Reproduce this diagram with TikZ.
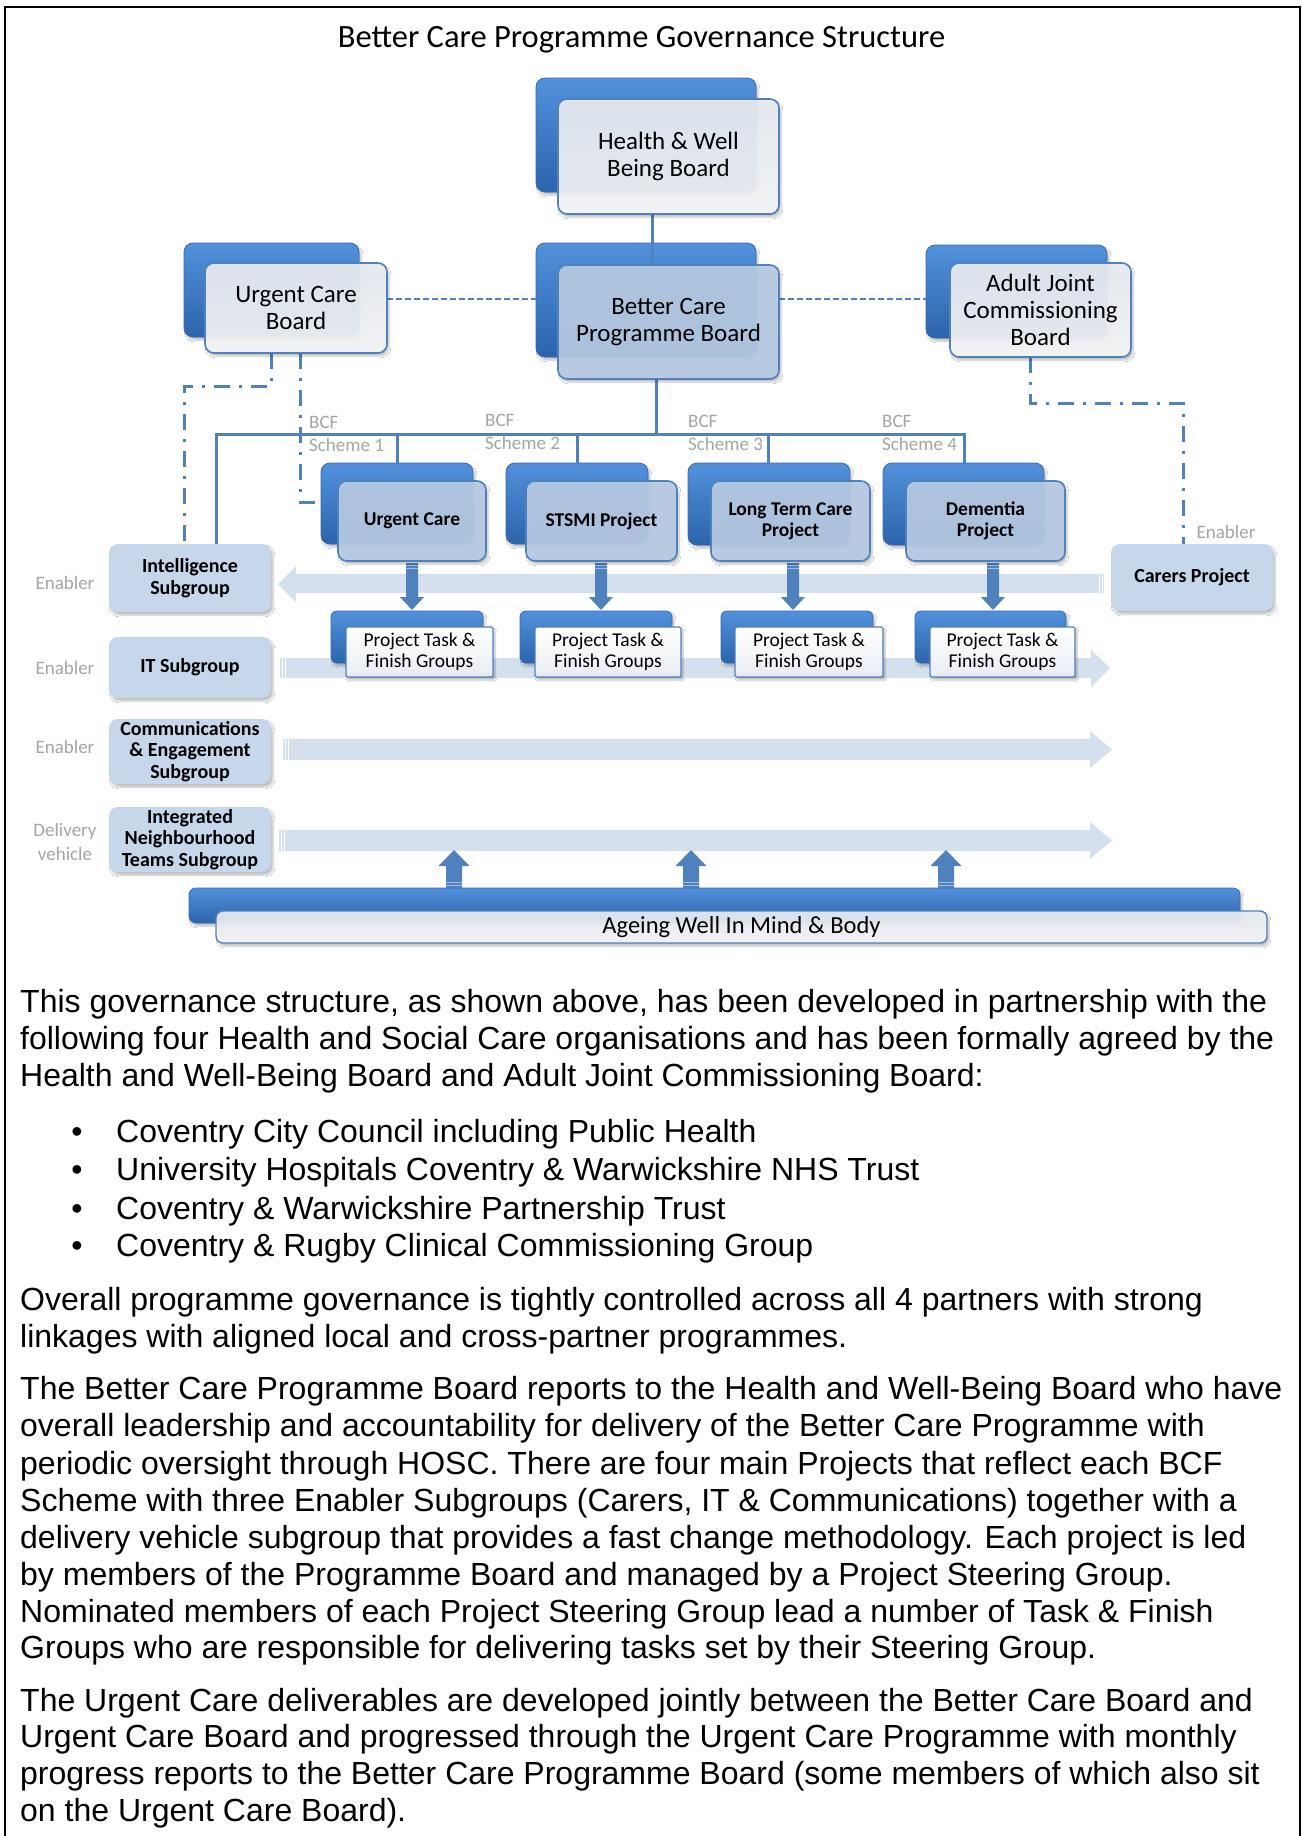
\documentclass[tikz,border=0pt]{standalone}
\usepackage{fontspec}
\setmainfont{Carlito}
\newfontfamily\arialf{Liberation Sans}
\usetikzlibrary{fit,shadows.blur,calc}
\definecolor{lineblue}{RGB}{79,129,189}
\definecolor{backtop}{RGB}{82,145,220}
\definecolor{backbot}{RGB}{44,100,172}
\definecolor{backdraw}{RGB}{55,105,170}
\definecolor{frontwa}{RGB}{232,236,242}
\definecolor{frontwb}{RGB}{245,246,248}
\definecolor{frontblue}{RGB}{184,204,228}
\definecolor{subfill}{RGB}{198,214,235}
\definecolor{bandfill}{RGB}{213,224,238}
\definecolor{graytxt}{RGB}{165,165,165}
\definecolor{arrowblue}{RGB}{79,129,189}
\definecolor{stripec}{RGB}{160,190,225}
\tikzset{
  sh/.style={blur shadow={shadow xshift=2pt, shadow yshift=-3pt, shadow blur steps=6, shadow opacity=25}},
  box/.style={inner sep=0pt, outer sep=0pt, rounded corners=9pt},
  geom/.style={inner sep=0pt, outer sep=0pt, draw=none},
  backbox/.style={box, draw=backdraw, line width=0.8pt, top color=backtop, bottom color=backbot, sh},
  frontw/.style={box, draw=lineblue, line width=1.6pt, top color=frontwa, bottom color=frontwb, fill opacity=0.93, sh},
  frontb/.style={box, draw=lineblue, line width=1.6pt, fill=frontblue, fill opacity=0.92, sh},
  subbox/.style={box, fill=subfill, sh},
  tfback/.style={box, rounded corners=6pt, draw=backdraw, line width=0.8pt, top color=backtop, bottom color=backbot, sh},
  tffront/.style={box, rounded corners=1.5pt, draw=lineblue, line width=1.4pt, top color=white, bottom color=frontwa, sh},
  lbl/.style={align=center, inner sep=0pt},
  boardtxt/.style={lbl, font=\fontsize{25}{27}\selectfont},
  projtxt/.style={lbl, font=\bfseries\fontsize{19.5}{21}\selectfont},
  subtxt/.style={lbl, font=\bfseries\fontsize{20}{21.5}\selectfont},
  tftxt/.style={lbl, font=\fontsize{19.5}{21}\selectfont},
  graylbl/.style={text=graytxt, font=\fontsize{19}{24}\selectfont, align=center, inner sep=0pt},
  bcflbl/.style={text=graytxt, font=\fontsize{19}{23}\selectfont, align=left, inner sep=0pt, anchor=west},
  conn/.style={draw=lineblue, line width=3pt},
  dashconn/.style={draw=lineblue, line width=2pt, dash pattern=on 6pt off 3pt},
  dotdash/.style={draw=lineblue, line width=3pt, dash pattern=on 16pt off 9pt on 3pt off 9pt},
  band/.style={fill=bandfill},
  stripe/.style={draw=white, line width=0.7pt},
  astripe/.style={draw=stripec, line width=0.8pt},
  body/.style={font=\arialf\fontsize{32}{37}\selectfont, anchor=base west, inner sep=0pt},
  bul/.style={font=\arialf\fontsize{32}{37}\selectfont, anchor=base, inner sep=0pt},
}
\newcommand\mydnarrow[1]{%
  \fill[arrowblue] ({#1-6},563) -- ({#1+6},563) -- ({#1+6},597) -- ({#1+12},597) -- (#1,610) -- ({#1-12},597) -- ({#1-6},597) -- cycle;
  \draw[astripe] ({#1-6},565) -- ({#1+6},565) ({#1-6},568) -- ({#1+6},568);}
\newcommand\myuparrow[1]{%
  \fill[arrowblue] ({#1-8},888) -- ({#1-8},866) -- ({#1-15.5},866) -- (#1,850) -- ({#1+15.5},866) -- ({#1+8},866) -- ({#1+8},888) -- cycle;
  \draw[astripe] ({#1-8},885) -- ({#1+8},885) ({#1-8},882) -- ({#1+8},882);}
\newcommand\vis[2]{\path[#1] (#2.south west) rectangle (#2.north east);}
\begin{document}
\begin{tikzpicture}[x=1pt,y=-1pt]
\useasboundingbox (0,0) rectangle (1303,1836);
\fill[white] (0,0) rectangle (1303,1836);

% ---------- bands
\fill[band] (1104,574) -- (296,574) -- (296,566) -- (278,584) -- (296,602) -- (296,593) -- (1104,593) -- cycle;
\draw[stripe] (1099,574) -- (1099,593) (1102,574) -- (1102,593);
\fill[band] (280,658) -- (1091,658) -- (1091,650) -- (1110,668) -- (1091,687) -- (1091,678) -- (280,678) -- cycle;
\draw[stripe] (282,658) -- (282,678) (285,658) -- (285,678);
\fill[band] (283,739) -- (1090,739) -- (1090,731) -- (1112,749.5) -- (1090,768) -- (1090,760) -- (283,760) -- cycle;
\draw[stripe] (285,739) -- (285,760) (288,739) -- (288,760);
\fill[band] (279,830) -- (1090,830) -- (1090,822) -- (1112,840.5) -- (1090,859) -- (1090,851) -- (279,851) -- cycle;
\draw[stripe] (281,830) -- (281,851) (284,830) -- (284,851);

\draw[line width=2.5pt] (5,1836) -- (5,7) -- (1300,7) -- (1300,1836);
\node[anchor=base, font=\fontsize{32.5}{36}\selectfont] (title) at (641.5,48) {Better Care Programme Governance Structure};

% ---------- back boxes
\node[backbox, fit={(536,78)(756,192)}] (hwbB) {};
\node[backbox, fit={(536,243)(756,357)}] (bcpbB) {};
\node[backbox, fit={(184,243)(359,337)}] (ucbB) {};
\node[backbox, fit={(926,245)(1107,338)}] (ajcbB) {};
\node[backbox, fit={(321,463)(473,544)}] (ucPB) {};
\node[backbox, fit={(506,463)(648,544)}] (stPB) {};
\node[backbox, fit={(688,463)(850,545)}] (ltPB) {};
\node[backbox, fit={(883,463)(1044,545)}] (dmPB) {};
\node[tfback, fit={(331,611)(483,663)}] (tf1B) {};
\node[tfback, fit={(520,611)(672,663)}] (tf2B) {};
\node[tfback, fit={(721,611)(873,663)}] (tf3B) {};
\node[tfback, fit={(915,611)(1066,663)}] (tf4B) {};
\node[backbox, rounded corners=7pt, fit={(189,888)(1240,923)}] (ageB) {};

% ---------- geometry of front boxes
\node[geom, fit={(558,99)(779,214)}] (hwbF) {};
\node[geom, fit={(558,265)(779,379)}] (bcpbF) {};
\node[geom, fit={(205,263)(387,353)}] (ucbF) {};
\node[geom, fit={(950,263)(1131,357)}] (ajcbF) {};
\node[geom, fit={(338,481)(486,561)}] (ucPF) {};
\node[geom, fit={(526,481)(677,561)}] (stPF) {};
\node[geom, fit={(711,481)(870,561)}] (ltPF) {};
\node[geom, fit={(906,481)(1065,561)}] (dmPF) {};
\node[geom, fit={(346,627)(493,677)}] (tf1F) {};
\node[geom, fit={(535,627)(681,677)}] (tf2F) {};
\node[geom, fit={(735,627)(883,677)}] (tf3F) {};
\node[geom, fit={(930,627)(1075,677)}] (tf4F) {};
\node[geom, fit={(109,544)(271,612)}] (intel) {};
\node[geom, fit={(109,637)(271,698)}] (itsub) {};
\node[geom, fit={(109,719)(271,784)}] (comms) {};
\node[geom, fit={(109,807)(271,872)}] (intn) {};
\node[geom, fit={(1111,544)(1273,611)}] (carers) {};
\node[geom, fit={(216,911)(1267,943)}] (ageF) {};

% ---------- connectors
\draw[conn] (652,0 |- hwbF.south) -- (652,0 |- bcpbF.north);
\draw[conn] (656,0 |- bcpbF.south) -- (656,434);
\draw[conn] (216,0 |- intel.north) -- (216,434) -- (964,434) -- (964,0 |- dmPB.north);
\draw[conn] (397,434) -- (397,0 |- ucPB.north);
\draw[conn] (577,434) -- (577,0 |- stPB.north);
\draw[conn] (768,434) -- (768,0 |- ltPB.north);
\draw[dashconn] (ucbF.east |- 0,299) -- (bcpbB.west |- 0,299);
\draw[dashconn] (bcpbF.east |- 0,299) -- (ajcbB.west |- 0,299);
\draw[dotdash] (271,0 |- ucbF.south) -- (271,386) -- (184,386) -- (184,0 |- intel.north);
\draw[dotdash] (300,0 |- ucbF.south) -- (300,502) -- (ucPB.west |- 0,502);
\draw[dotdash] (1030,0 |- ajcbF.south) -- (1030,403) -- (1183,403) -- (1183,0 |- carers.north);
\mydnarrow{412}
\mydnarrow{601}
\mydnarrow{793}
\mydnarrow{993}
\myuparrow{454}
\myuparrow{691}
\myuparrow{946}

% ---------- visible front boxes
\vis{frontw}{hwbF}
\vis{frontb}{bcpbF}
\vis{frontw}{ucbF}
\vis{frontw}{ajcbF}
\vis{frontb}{ucPF}
\vis{frontb}{stPF}
\vis{frontb}{ltPF}
\vis{frontb}{dmPF}
\vis{tffront}{tf1F}
\vis{tffront}{tf2F}
\vis{tffront}{tf3F}
\vis{tffront}{tf4F}
\vis{subbox}{intel}
\vis{subbox}{itsub}
\vis{subbox}{comms}
\vis{subbox}{intn}
\vis{subbox}{carers}
\vis{frontw,rounded corners=7pt,line width=1.4pt}{ageF}

% ---------- labels inside boxes
\node[boardtxt] (hwbT) at (hwbF.center) {Health \& Well\\Being Board};
\node[boardtxt] (bcpbT) at (bcpbF.center) {Better Care\\Programme Board};
\node[boardtxt] (ucbT) at (ucbF.center) {Urgent Care\\Board};
\node[boardtxt] (ajcbT) at (ajcbF.center) {Adult Joint\\Commissioning\\Board};
\node[projtxt] (ucPT) at (ucPF.center) {Urgent Care};
\node[projtxt] (stPT) at (stPF.center) {STSMI Project};
\node[projtxt] (ltPT) at (ltPF.center) {Long Term Care\\Project};
\node[projtxt] (dmPT) at (dmPF.center) {Dementia\\Project};
\node[tftxt] (tf1T) at (tf1F.center) {Project Task \&\\Finish Groups};
\node[tftxt] (tf2T) at (tf2F.center) {Project Task \&\\Finish Groups};
\node[tftxt] (tf3T) at (tf3F.center) {Project Task \&\\Finish Groups};
\node[tftxt] (tf4T) at (tf4F.center) {Project Task \&\\Finish Groups};
\node[subtxt] (intelT) at (intel.center) {Intelligence\\Subgroup};
\node[subtxt] (itsubT) at (itsub.center) {IT Subgroup};
\node[subtxt] (commsT) at (comms.center) {Communications\\\& Engagement\\Subgroup};
\node[subtxt] (intnT) at (intn.center) {Integrated\\Neighbourhood\\Teams Subgroup};
\node[subtxt] (carersT) at (carers.center) {Carers Project};
\node[lbl, font=\fontsize{24.5}{27}\selectfont] (ageT) at (ageF.center) {Ageing Well In Mind \& Body};

% ---------- gray labels
\node[graylbl] (en1) at (65,583) {Enabler};
\node[graylbl] (en2) at (65,668) {Enabler};
\node[graylbl] (en3) at (65,747) {Enabler};
\node[graylbl] (dv) at (65,842) {Delivery\\vehicle};
\node[graylbl] (en4) at (1226,532) {Enabler};
\node[bcflbl] (bcf1) at (309,434) {BCF\\Scheme 1};
\node[bcflbl] (bcf2) at (485,432) {BCF\\Scheme 2};
\node[bcflbl] (bcf3) at (688,433) {BCF\\Scheme 3};
\node[bcflbl] (bcf4) at (882,433) {BCF\\Scheme 4};

% ---------- body text
\node[body] (p1a) at (20,1012) {This governance structure, as shown above, has been developed in partnership with the};
\node[body] (p1b) at (20,1049) {following four Health and Social Care organisations and has been formally agreed by the};
\node[body] (p1c) at (20,1086) {Health and Well-Being Board and Adult Joint Commissioning Board:};
\node[bul] (b1) at (77,1142) {•};
\node[body] (l1) at (116,1142) {Coventry City Council including Public Health};
\node[bul] (b2) at (77,1180.5) {•};
\node[body] (l2) at (116,1180.5) {University Hospitals Coventry \& Warwickshire NHS Trust};
\node[bul] (b3) at (77,1219) {•};
\node[body] (l3) at (116,1219) {Coventry \& Warwickshire Partnership Trust};
\node[bul] (b4) at (77,1256.5) {•};
\node[body] (l4) at (116,1256.5) {Coventry \& Rugby Clinical Commissioning Group};
\node[body] (p2a) at (20,1310.5) {Overall programme governance is tightly controlled across all 4 partners with strong};
\node[body] (p2b) at (20,1347) {linkages with aligned local and cross-partner programmes.};
\node[body] (p3a) at (20,1399.5) {The Better Care Programme Board reports to the Health and Well-Being Board who have};
\node[body] (p3b) at (20,1436.5) {overall leadership and accountability for delivery of the Better Care Programme with};
\node[body] (p3c) at (20,1474) {periodic oversight through HOSC. There are four main Projects that reflect each BCF};
\node[body] (p3d) at (20,1511) {Scheme with three Enabler Subgroups (Carers, IT \& Communications) together with a};
\node[body] (p3e) at (20,1548) {delivery vehicle subgroup that provides a fast change methodology. Each project is led};
\node[body] (p3f) at (20,1585) {by members of the Programme Board and managed by a Project Steering Group.};
\node[body] (p3g) at (20,1622) {Nominated members of each Project Steering Group lead a number of Task \& Finish};
\node[body] (p3h) at (20,1658.5) {Groups who are responsible for delivering tasks set by their Steering Group.};
\node[body] (p4a) at (20,1711) {The Urgent Care deliverables are developed jointly between the Better Care Board and};
\node[body] (p4b) at (20,1747.5) {Urgent Care Board and progressed through the Urgent Care Programme with monthly};
\node[body] (p4c) at (20,1784.5) {progress reports to the Better Care Programme Board (some members of which also sit};
\node[body] (p4d) at (20,1821) {on the Urgent Care Board).};
\end{tikzpicture}
\end{document}
